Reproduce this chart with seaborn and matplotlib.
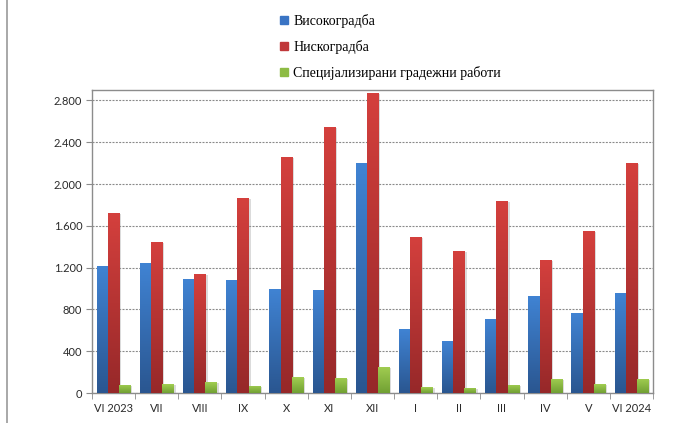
import numpy as np
import pandas as pd
import seaborn as sns
import matplotlib
matplotlib.use("Agg")
import matplotlib.pyplot as plt
from matplotlib.colors import LinearSegmentedColormap
from matplotlib.ticker import FuncFormatter, FixedLocator
from matplotlib.lines import Line2D
import matplotlib.patheffects as pe

# ---- data ----
months = ["VI 2023", "VII", "VIII", "IX", "X", "XI", "XII", "I", "II", "III", "IV", "V", "VI 2024"]
visokogradba = [1215, 1244, 1091, 1081, 995, 985, 2200, 612, 497, 708, 928, 765, 957]
niskogradba = [1722, 1444, 1138, 1865, 2258, 2545, 2870, 1492, 1358, 1837, 1272, 1550, 2200]
specijalizirani = [77, 86, 105, 67, 153, 144, 249, 57, 48, 77, 134, 86, 134]
series = ["Високоградба", "Нискоградба", "Специјализирани градежни работи"]
y_ticks = [0, 400, 800, 1200, 1600, 2000, 2400, 2800]

# ---- styling ----
base_colors = ["#3470BA", "#B93431", "#8BB841"]
grad_top = ["#4083D3", "#D4403D", "#A2CE52"]
grad_bot = ["#2A5690", "#962829", "#71A033"]
legend_colors = ["#3A74C4", "#C0383A", "#8DBB44"]

df = pd.DataFrame({
    "month": months * 3,
    "value": visokogradba + niskogradba + specijalizirani,
    "series": [series[0]] * len(months) + [series[1]] * len(months) + [series[2]] * len(months),
})

fig = plt.figure(figsize=(6.81, 4.23), dpi=100)
ax = fig.add_axes([92 / 681, 1 - 393 / 423, (653 - 92) / 681, (393 - 90) / 423])

sns.barplot(data=df, x="month", y="value", hue="series", order=months, hue_order=series,
            palette=base_colors, width=0.78, dodge=True, ax=ax, legend=False,
            errorbar=None, saturation=1, linewidth=0, zorder=3)

# gradients + shadow
for ci, cont in enumerate(ax.containers):
    cmap = LinearSegmentedColormap.from_list("g%d" % ci, [grad_bot[ci], grad_top[ci]])
    grad = np.linspace(0, 1, 256).reshape(-1, 1)
    for bar in cont:
        bar.set_path_effects([pe.SimplePatchShadow(offset=(1.5, -0.5), shadow_rgbFace="#999999", alpha=0.35),
                              pe.Normal()])
        x0 = bar.get_x()
        w = bar.get_width()
        h = bar.get_height()
        im = ax.imshow(grad, extent=(x0, x0 + w, 0, h), origin="lower", aspect="auto",
                       cmap=cmap, zorder=3.5, interpolation="bilinear")
        im.set_clip_path(bar)

ax.set_xlim(-0.5, len(months) - 0.5)
ax.set_ylim(0, 2900)

# axes styling
for s in ax.spines.values():
    s.set_color("#8c8c8c")
    s.set_linewidth(1.0)
ax.set_xlabel("")
ax.set_ylabel("")
ax.yaxis.set_major_locator(FixedLocator(y_ticks))
ax.yaxis.set_major_formatter(FuncFormatter(lambda v, p: f"{int(v):,}".replace(",", ".")))
ax.grid(axis="y", color="#8a8a8a", linestyle=(0, (1.8, 1.2)), linewidth=0.8, zorder=0)
ax.set_axisbelow(True)
ax.tick_params(axis="y", length=4, color="#8c8c8c", labelsize=8, pad=3, labelcolor="#2a2a2a")
ax.tick_params(axis="x", which="major", length=0, labelsize=8, pad=7, labelcolor="#2a2a2a")
ax.xaxis.set_minor_locator(FixedLocator(np.arange(-0.5, len(months), 1.0)))
ax.tick_params(axis="x", which="minor", length=4, color="#8c8c8c", direction="out")
for lbl in ax.get_xticklabels() + ax.get_yticklabels():
    lbl.set_fontfamily("Lato")

# legend
handles = [Line2D([0], [0], marker="s", linestyle="none", markersize=5.5,
                  markerfacecolor=c, markeredgecolor=c) for c in legend_colors]
fig.legend(handles, series, loc="upper left", bbox_to_anchor=(278 / 681, 1 - 14 / 423),
           frameon=False, prop={"family": "Liberation Serif", "size": 10},
           handlelength=0.8, handletextpad=0.3, labelspacing=0.85, borderpad=0, borderaxespad=0)

# outer chart border (left edge visible)
fig.add_artist(Line2D([6.5 / 681, 6.5 / 681], [0, 1], transform=fig.transFigure,
                      color="#9a9a9a", linewidth=1.2))

fig.savefig("out.png", dpi=100)
